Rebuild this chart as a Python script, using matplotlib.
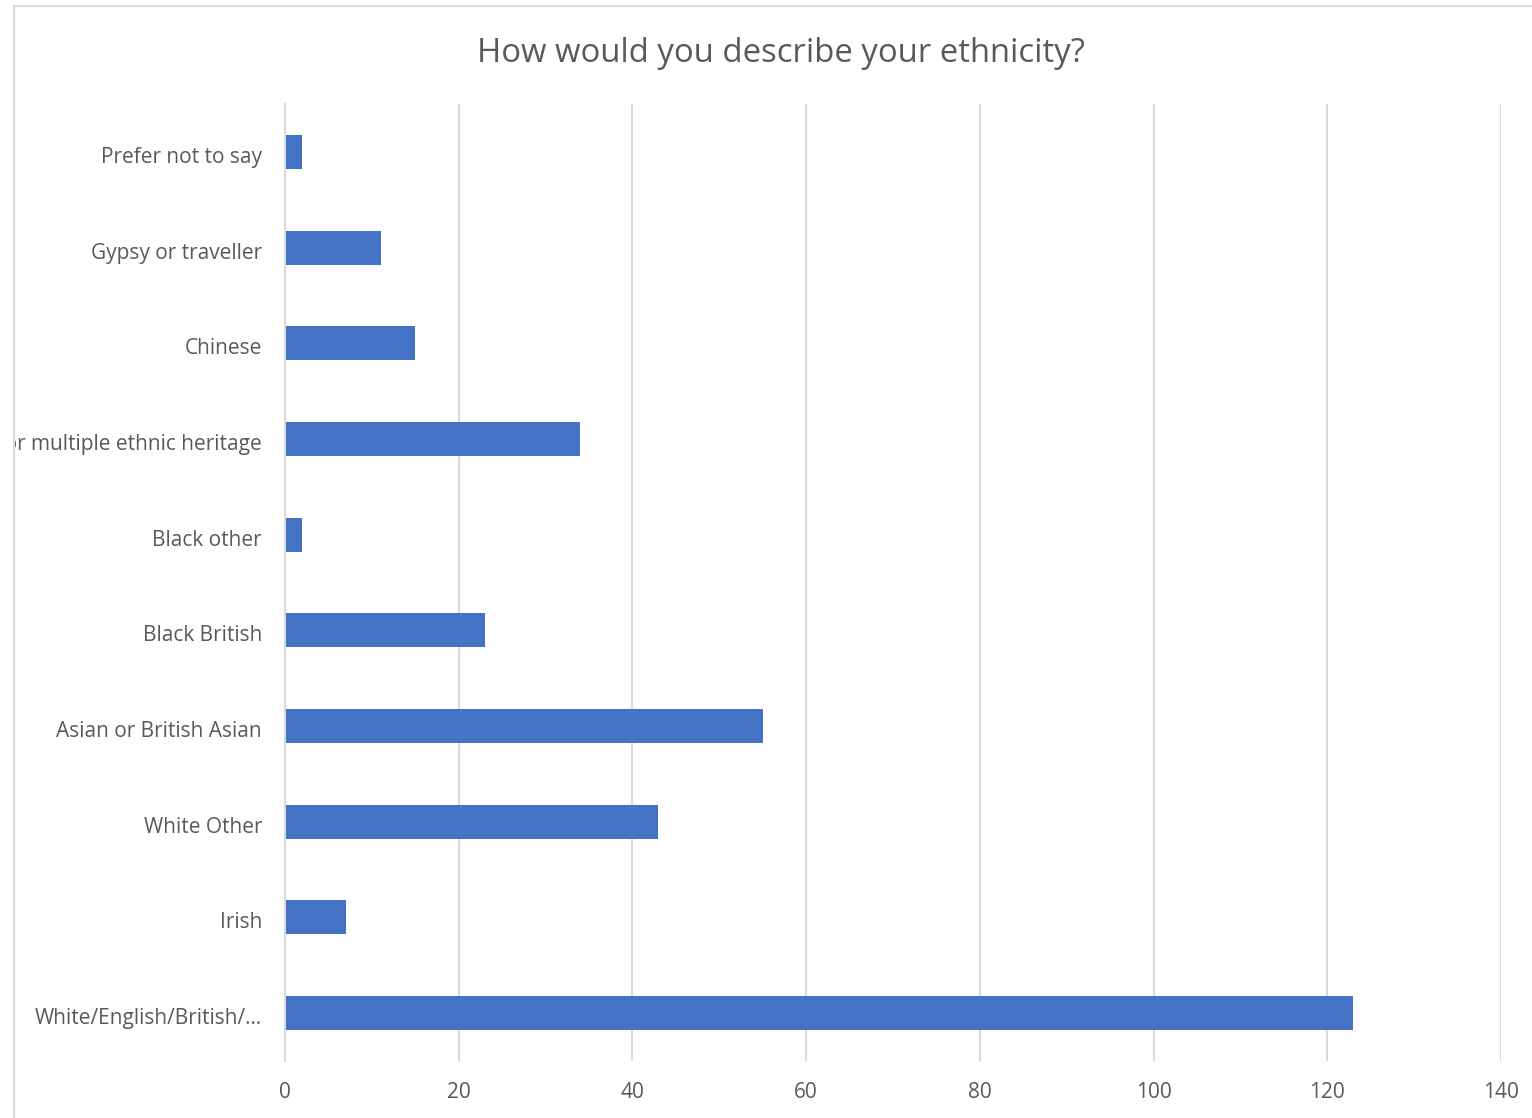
import matplotlib
matplotlib.use("Agg")
import matplotlib.pyplot as plt
from matplotlib.patches import Rectangle
from matplotlib.transforms import ScaledTranslation

categories = [
    "White/English/British/...",
    "Irish",
    "White Other",
    "Asian or British Asian",
    "Black British",
    "Black other",
    "Mixed or multiple ethnic heritage",
    "Chinese",
    "Gypsy or traveller",
    "Prefer not to say",
]
counts = [123, 7, 43, 55, 23, 2, 34, 15, 11, 2]
x_ticks = [0, 20, 40, 60, 80, 100, 120, 140]
title = "How would you describe your ethnicity?"

W, H = 1532, 1118
fig = plt.figure(figsize=(W / 100, H / 100), dpi=100)
fig.patch.set_facecolor("white")

text_color = "#595959"
grid_color = "#d9d9d9"
bar_color = "#4472c4"
font = ["Open Sans", "DejaVu Sans"]

# chart frame (extends past the right and bottom edges)
frame_x0, frame_y0 = 13.5, 6.5
frame = Rectangle((frame_x0 / W, 1 - (H + 20) / H), (W + 20 - frame_x0) / W, (H + 20 - frame_y0) / H,
                  transform=fig.transFigure, fill=False, edgecolor=grid_color, linewidth=1.5)
fig.add_artist(frame)

ax_left, ax_right, ax_top, ax_bottom = 285, 1501, 104, 1061
ax = fig.add_axes([ax_left / W, 1 - ax_bottom / H, (ax_right - ax_left) / W, (ax_bottom - ax_top) / H])

ypos = list(range(len(categories)))
ax.barh(ypos, counts, height=0.355, color=bar_color, zorder=3)
ax.set_xlim(0, 140)
ax.set_ylim(-0.5, len(categories) - 0.5)
ax.set_xticks(x_ticks)
ax.set_xticklabels([str(t) for t in x_ticks])
ax.set_yticks(ypos)
ax.set_yticklabels(categories)

ax.grid(axis="x", color=grid_color, linewidth=1.5, zorder=0)
for s in ["top", "right", "bottom"]:
    ax.spines[s].set_visible(False)
ax.spines["left"].set_color(grid_color)
ax.spines["left"].set_linewidth(1.5)
ax.spines["left"].set_zorder(4)

ax.tick_params(axis="both", length=0, labelsize=15, labelcolor=text_color)
ax.tick_params(axis="y", pad=16.5)
ax.tick_params(axis="x", pad=15)

clip = Rectangle((frame_x0 / W, 0), 1, 1, transform=fig.transFigure, visible=False)
fig.add_artist(clip)
shift_down = ScaledTranslation(0, -3 / 100, fig.dpi_scale_trans)
for lbl in ax.get_yticklabels() + ax.get_xticklabels():
    lbl.set_fontfamily(font)
for lbl in ax.get_yticklabels():
    lbl.set_transform(lbl.get_transform() + shift_down)
    lbl.set_clip_on(True)
    lbl.set_clip_path(clip)

fig.text(781 / W, 1 - 53 / H, title, ha="center", va="center", fontsize=23.7,
         color=text_color, family=font)

fig.savefig("out.png", dpi=100, facecolor="white")
